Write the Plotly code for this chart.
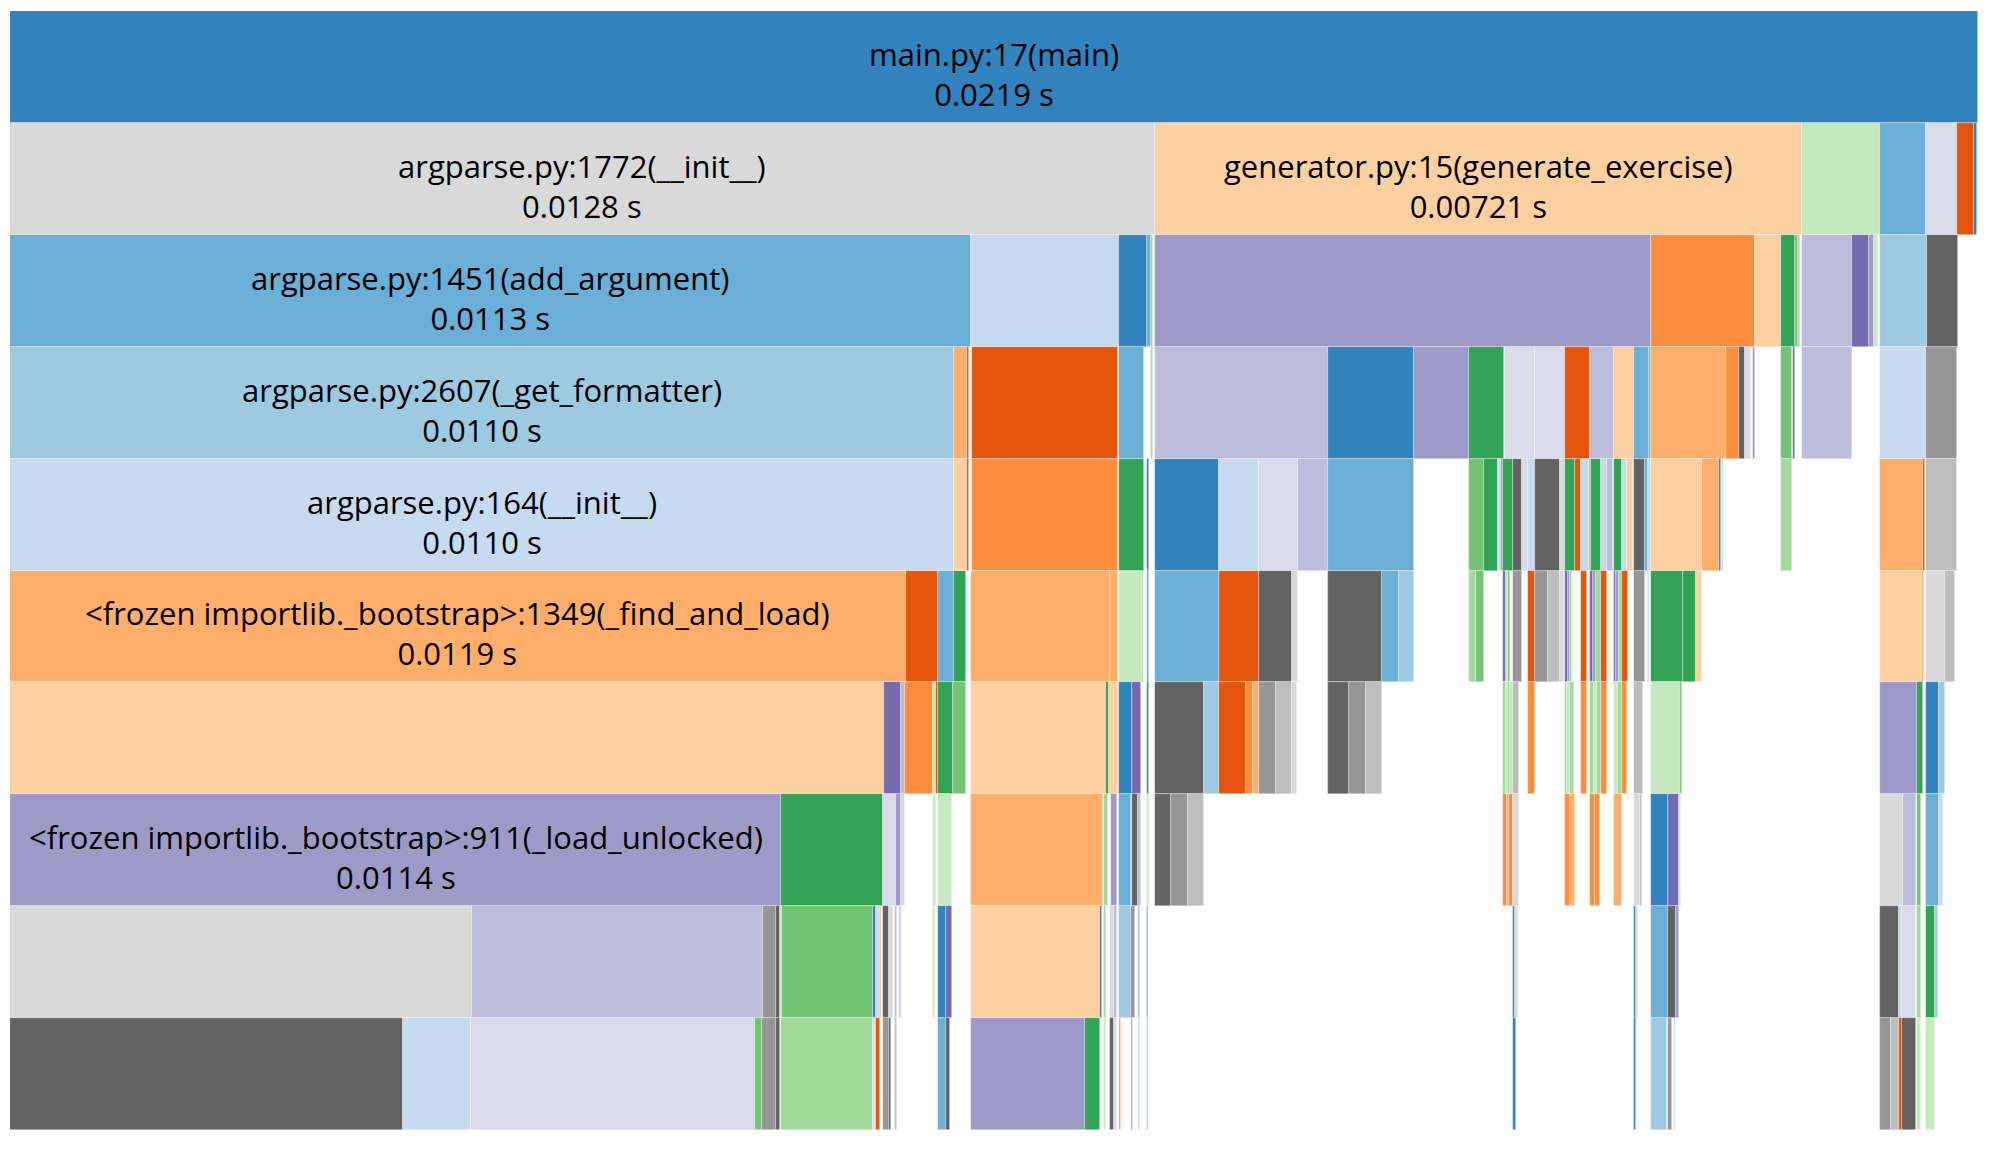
import plotly.graph_objects as go

# category20c palette keys
PALETTE = {
    "b1": "#3182bd", "b2": "#6baed6", "b3": "#9ecae1", "b4": "#c6dbef",
    "o1": "#e6550d", "o2": "#fd8d3c", "o3": "#fdae6b", "o4": "#fdd0a2",
    "g1": "#31a354", "g2": "#74c476", "g3": "#a1d99b", "g4": "#c7e9c0",
    "p1": "#756bb1", "p2": "#9e9ac8", "p3": "#bcbddc", "p4": "#dadaeb",
    "k1": "#636363", "k2": "#969696", "k3": "#bdbdbd", "k4": "#d9d9d9",
}

# call intervals per stack depth, in milliseconds (start, end)
D0_MS = [(0, 21.94)]
D0_COL = "b1".split()

D1_MS = [(0, 12.76), (12.76, 19.979), (19.979, 20.843), (20.843, 21.364),
         (21.364, 21.707), (21.707, 21.895), (21.895, 21.926)]
D1_COL = "k4 o4 g4 b2 p4 o1 b1".split()

D2_MS = [(0, 10.709), (10.709, 12.361), (12.361, 12.672), (12.672, 12.72),
         (12.72, 12.745), (12.76, 18.294), (18.294, 19.455), (19.455, 19.748),
         (19.748, 19.900), (19.900, 19.932), (19.937, 19.961), (19.979, 20.537),
         (20.537, 20.720), (20.720, 20.781), (20.781, 20.830), (20.843, 21.368),
         (21.368, 21.713)]
D2_COL = "b2 b4 b1 b2 g3 p2 o2 o4 g1 g2 k3 p3 p1 p2 g4 b3 k1".split()

D3_MS = [(0, 10.520), (10.520, 10.670), (10.670, 10.694), (10.723, 12.351),
         (12.361, 12.643), (12.718, 12.743), (12.76, 14.692), (14.692, 15.650),
         (15.650, 16.260), (16.260, 16.656), (16.663, 17.005), (17.005, 17.332),
         (17.332, 17.617), (17.617, 17.878), (17.878, 18.101), (18.101, 18.272),
         (18.272, 18.294), (18.294, 19.128), (19.128, 19.271), (19.271, 19.342),
         (19.342, 19.413), (19.427, 19.455), (19.748, 19.861), (19.880, 19.904),
         (19.979, 20.532), (20.843, 21.364), (21.364, 21.703)]
D3_COL = ("b3 o3 o1 o1 b2 g3 p3 b1 p2 g1 p4 p4 o1 p3 o4 b2 g2 o3 o2 k1 "
          "p4 p2 g2 p1 p3 b4 k2").split()

D4_MS = [(0, 10.520), (10.520, 10.670), (10.670, 10.694), (10.723, 12.351),
         (12.361, 12.643), (12.672, 12.701), (12.76, 13.476), (13.476, 13.924),
         (13.924, 14.358), (14.358, 14.692), (14.692, 15.650), (16.260, 16.433),
         (16.433, 16.592), (16.592, 16.617), (16.617, 16.650), (16.650, 16.751),
         (16.751, 16.851), (16.851, 16.918), (16.918, 17.000), (17.000, 17.276),
         (17.276, 17.332), (17.332, 17.443), (17.443, 17.517), (17.517, 17.599),
         (17.599, 17.622), (17.622, 17.740), (17.740, 17.804), (17.804, 17.871),
         (17.878, 17.971), (17.971, 18.030), (18.030, 18.094), (18.101, 18.226),
         (18.226, 18.256), (18.256, 18.294), (18.294, 18.859), (18.859, 19.058),
         (19.058, 19.074), (19.081, 19.098), (19.748, 19.861), (20.843, 21.328),
         (21.328, 21.347), (21.364, 21.703)]
D4_COL = ("b4 o4 o1 o2 g1 b1 b1 b4 p4 p3 b2 g2 g1 p4 p2 g1 k1 p4 b4 k1 "
          "k4 g1 o1 b4 g3 g1 b4 p3 g1 b4 o4 k1 b2 b4 o4 o3 p1 g2 g3 o3 "
          "o1 k3").split()

D5_MS = [(0, 9.987), (9.987, 10.346), (10.346, 10.522), (10.522, 10.663),
         (10.719, 12.263), (12.263, 12.349), (12.361, 12.618), (12.618, 12.635),
         (12.672, 12.701), (12.76, 13.476), (13.476, 13.924), (13.924, 14.287),
         (14.287, 14.358), (14.692, 15.292), (15.292, 15.480), (15.480, 15.650),
         (16.260, 16.349), (16.349, 16.430), (16.650, 16.675), (16.675, 16.701),
         (16.701, 16.724), (16.758, 16.851), (16.927, 16.998), (17.005, 17.147),
         (17.147, 17.276), (17.276, 17.320), (17.332, 17.368), (17.368, 17.387),
         (17.387, 17.414), (17.517, 17.585), (17.617, 17.646), (17.646, 17.685),
         (17.685, 17.740), (17.740, 17.807), (17.878, 17.907), (17.907, 17.937),
         (17.937, 17.971), (17.971, 18.037), (18.101, 18.226), (18.256, 18.272),
         (18.294, 18.651), (18.651, 18.798), (18.798, 18.859), (20.843, 21.315),
         (21.315, 21.338), (21.364, 21.574), (21.574, 21.679)]
D5_COL = ("o3 o1 b2 g1 o3 o3 g4 g2 b2 b2 o1 k1 k4 k1 b2 b3 g3 g2 p1 g4 "
          "g2 k2 o1 k2 k3 k4 p1 p2 g3 o1 p1 p2 g3 o1 p1 p2 g3 o1 k2 b3 "
          "g1 g1 o4 o4 o3 k4 k3").split()

D6_MS = [(0, 9.741), (9.741, 9.930), (9.930, 9.982), (9.982, 10.291),
         (10.291, 10.320), (10.320, 10.346), (10.346, 10.515), (10.515, 10.655),
         (10.719, 12.218), (12.218, 12.249), (12.249, 12.357), (12.361, 12.510),
         (12.510, 12.606), (12.672, 12.701), (12.76, 13.310), (13.310, 13.476),
         (13.476, 13.781), (13.781, 13.852), (13.852, 13.924), (13.924, 14.112),
         (14.112, 14.287), (14.287, 14.348), (14.692, 14.924), (14.924, 15.117),
         (15.117, 15.292), (16.650, 16.675), (16.675, 16.701), (16.701, 16.724),
         (16.724, 16.751), (16.751, 16.825), (16.927, 16.998), (17.332, 17.358),
         (17.358, 17.386), (17.386, 17.433), (17.517, 17.585), (17.617, 17.654),
         (17.654, 17.696), (17.696, 17.740), (17.740, 17.807), (17.878, 17.923),
         (17.923, 17.971), (17.971, 18.030), (18.101, 18.205), (18.294, 18.622),
         (18.622, 18.643), (20.843, 21.263), (21.263, 21.322), (21.364, 21.505),
         (21.505, 21.570)]
D6_COL = ("o4 p1 k3 o2 g4 o1 g1 g2 o4 g1 o4 b1 p1 g1 k1 b3 o1 o2 o3 k2 "
          "k3 k4 k1 k2 k3 g3 g4 g3 g4 k3 o2 g3 g4 g3 o2 g3 g4 g3 o2 g4 "
          "g3 o2 k3 g4 g2 p2 g1 b1 b3").split()

D7_MS = [(0, 8.598), (8.598, 9.734), (9.734, 9.876), (9.876, 9.938),
         (9.938, 9.976), (10.291, 10.320), (10.346, 10.499), (10.713, 12.185),
         (12.198, 12.243), (12.276, 12.343), (12.361, 12.495), (12.510, 12.580),
         (12.580, 12.608), (12.672, 12.701), (12.76, 12.942), (12.942, 13.130),
         (13.130, 13.310), (16.650, 16.687), (16.687, 16.715), (16.715, 16.751),
         (16.751, 16.825), (17.332, 17.386), (17.386, 17.443), (17.617, 17.668),
         (17.668, 17.729), (17.878, 17.967), (18.101, 18.167), (18.167, 18.189),
         (18.294, 18.484), (18.484, 18.607), (18.607, 18.634), (20.843, 21.100),
         (21.100, 21.253), (21.263, 21.310), (21.364, 21.505), (21.505, 21.552)]
D7_COL = ("p2 g1 p4 p2 k4 g4 g4 o3 g3 p2 b2 k1 p3 g4 k1 k2 k3 o2 o3 o2 "
          "k4 o2 o3 o2 o2 o3 k4 k3 b1 p1 g4 k4 p3 g2 b2 b4").split()

D8_MS = [(0, 5.149), (5.149, 8.391), (8.391, 8.541), (8.541, 8.580),
         (8.580, 8.601), (8.601, 9.622), (9.622, 9.659), (9.659, 9.697),
         (9.697, 9.715), (9.734, 9.800), (9.800, 9.845), (9.863, 9.889),
         (9.909, 9.944), (10.291, 10.309), (10.346, 10.440), (10.440, 10.499),
         (10.713, 12.149), (12.149, 12.177), (12.201, 12.222), (12.263, 12.308),
         (12.308, 12.338), (12.361, 12.495), (12.502, 12.541), (12.573, 12.597),
         (12.672, 12.686), (16.751, 16.781), (16.781, 16.808), (18.101, 18.124),
         (18.124, 18.149), (18.294, 18.484), (18.484, 18.570), (18.570, 18.609),
         (20.843, 21.055), (21.055, 21.089), (21.089, 21.245), (21.263, 21.310),
         (21.364, 21.465), (21.465, 21.493)]
D8_COL = ("k4 p3 k2 k1 g4 g2 b1 p4 o2 k1 k4 p3 k4 g4 b1 p1 o4 p1 g3 k4 "
          "p3 b3 k2 p3 b1 b1 k4 b1 k4 b2 k1 p2 k1 b4 p4 g3 g1 b3").split()

D9_MS = [(0, 4.381), (4.381, 5.135), (5.135, 8.301), (8.301, 8.386),
         (8.386, 8.541), (8.541, 8.589), (8.598, 9.622), (9.622, 9.659),
         (9.659, 9.697), (9.734, 9.800), (9.800, 9.824), (9.863, 9.889),
         (10.346, 10.440), (10.440, 10.477), (10.719, 11.983), (11.983, 12.149),
         (12.201, 12.222), (12.263, 12.308), (12.308, 12.338), (12.361, 12.384),
         (12.502, 12.519), (12.573, 12.597), (12.672, 12.686), (16.759, 16.787),
         (18.100, 18.128), (18.298, 18.473), (18.482, 18.525), (18.546, 18.567),
         (20.843, 20.970), (20.970, 21.055), (21.055, 21.089), (21.097, 21.245),
         (21.263, 21.310), (21.364, 21.465)]
D9_COL = ("k1 b4 p4 g2 k2 k1 g3 p4 o1 k2 k1 p3 b2 k1 p2 g1 g4 k1 p4 o3 "
          "k3 p4 b2 b1 b1 b3 k2 p3 k2 k3 o1 k1 g4 g4").split()

# labelled frames: (depth, index within depth)
LABEL_DEPTH = [0, 1, 1, 2, 3, 4, 5, 7]
LABEL_INDEX = [0, 0, 1, 0, 0, 0, 0, 0]
LABEL_NAME = [
    "main.py:17(main)",
    "argparse.py:1772(__init__)",
    "generator.py:15(generate_exercise)",
    "argparse.py:1451(add_argument)",
    "argparse.py:2607(_get_formatter)",
    "argparse.py:164(__init__)",
    "<frozen importlib._bootstrap>:1349(_find_and_load)",
    "<frozen importlib._bootstrap>:911(_load_unlocked)",
]
LABEL_TIME_S = [0.0219, 0.0128, 0.00721, 0.0113, 0.0110, 0.0110, 0.0119, 0.0114]

ROWS = [(D0_MS, D0_COL), (D1_MS, D1_COL), (D2_MS, D2_COL), (D3_MS, D3_COL),
        (D4_MS, D4_COL), (D5_MS, D5_COL), (D6_MS, D6_COL), (D7_MS, D7_COL),
        (D8_MS, D8_COL), (D9_MS, D9_COL)]

ys, bases, widths, colors = [], [], [], []
for depth, (spans, cols) in enumerate(ROWS):
    for (s, e), c in zip(spans, cols):
        ys.append(depth)
        bases.append(s)
        widths.append(e - s)
        colors.append(PALETTE[c])

fig = go.Figure(go.Bar(
    orientation="h",
    y=ys, x=widths, base=bases, width=1,
    marker=dict(color=colors, line=dict(color="rgba(255,255,255,0.45)", width=0.7)),
    hoverinfo="skip",
))

for d, i, n, t in zip(LABEL_DEPTH, LABEL_INDEX, LABEL_NAME, LABEL_TIME_S):
    s, e = ROWS[d][0][i]
    txt = n.replace("<", "&lt;").replace(">", "&gt;")
    fig.add_annotation(
        x=(s + e) / 2, y=d, xref="x", yref="y",
        text=f"{txt}<br>{t:#.3g} s", showarrow=False, yshift=-7,
        font=dict(family="Open Sans", size=31, color="#000000"),
    )

fig.update_layout(
    width=1974, height=1138,
    margin=dict(l=2, r=4, t=3, b=16),
    paper_bgcolor="white", plot_bgcolor="white",
    bargap=0, showlegend=False,
    xaxis=dict(range=[0, 21.94], visible=False, fixedrange=True),
    yaxis=dict(range=[9.5, -0.5], visible=False, fixedrange=True),
)

fig.write_html("out.html")
